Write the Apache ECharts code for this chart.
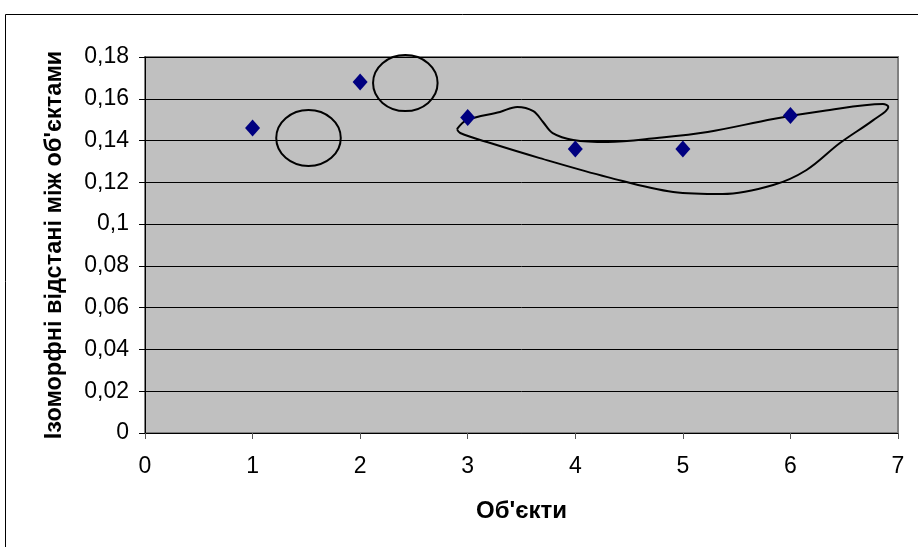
<!DOCTYPE html>
<html>
<head>
<meta charset="utf-8">
<script src="https://cdn.jsdelivr.net/npm/echarts@6/dist/echarts.min.js"></script>
<style>
  html, body { margin: 0; padding: 0; background: #fff; }
  #chart { width: 918px; height: 547px; }
</style>
</head>
<body>
<div id="chart"></div>
<script>
// objects and their isomorphic distances
const objects = [1, 2, 3, 4, 5, 6];
const distances = [0.146, 0.168, 0.151, 0.136, 0.136, 0.152];

// hand-drawn ellipses: [centre x, centre y, radius x, radius y] in data units
const ellipses = [
  [1.52, 0.1412, 0.30, 0.0134],
  [2.42, 0.1675, 0.30, 0.0134]
];

// hand-drawn closed outline round objects 3..6
const outlineX = [2.90, 2.99, 3.30, 3.46, 3.61, 3.70, 3.79, 3.98, 4.30, 4.76, 5.23, 5.84, 6.30, 6.86, 6.91,
                  6.77, 6.46, 6.15, 5.84, 5.37, 4.91, 4.30, 3.67, 3.21, 2.93, 2.90];
const outlineY = [0.1455, 0.1498, 0.1537, 0.1561, 0.1541, 0.1489, 0.1436, 0.1403, 0.1393, 0.1412, 0.1441, 0.1503, 0.1541, 0.1575, 0.1561,
                  0.1498, 0.1388, 0.1259, 0.1187, 0.1144, 0.1154, 0.1225, 0.1316, 0.1388, 0.1436, 0.1455];

const xTitle = "Об'єкти";
const yTitle = "Ізоморфні відстані між об'єктами";

const chart = echarts.init(document.getElementById('chart'));

const font = 'Liberation Sans, Arial, sans-serif';

chart.setOption({
  animation: false,
  graphic: [{
    type: 'rect',
    shape: { x: 5.5, y: 14.5, width: 930, height: 560 },
    style: { fill: 'none', stroke: '#000', lineWidth: 1 },
    z: -1
  }],
  grid: {
    left: 145, right: 20, top: 57, bottom: 114,
    show: true,
    backgroundColor: '#c0c0c0',
    borderColor: '#808080',
    borderWidth: 2
  },
  xAxis: {
    type: 'value',
    min: 0, max: 7, interval: 1,
    name: xTitle,
    nameLocation: 'middle',
    nameGap: 66,
    nameTextStyle: { fontFamily: font, fontSize: 24, fontWeight: 'bold', color: '#000' },
    axisLine: { show: true, onZero: false, lineStyle: { color: '#000', width: 1 } },
    axisTick: { show: true, length: 6, lineStyle: { color: '#555' } },
    axisLabel: { fontFamily: font, fontSize: 23, color: '#000', margin: 22 },
    splitLine: { show: false }
  },
  yAxis: {
    type: 'value',
    min: 0, max: 0.18, interval: 0.02,
    name: yTitle,
    nameLocation: 'middle',
    nameGap: 78,
    nameTextStyle: { fontFamily: font, fontSize: 23.5, fontWeight: 'bold', color: '#000' },
    axisLine: { show: true, lineStyle: { color: '#000', width: 1 } },
    axisTick: { show: true, length: 6, lineStyle: { color: '#000' } },
    axisLabel: {
      fontFamily: font, fontSize: 23, color: '#000', margin: 16,
      formatter: v => String(+v.toFixed(2)).replace('.', ',')
    },
    splitLine: { show: true, lineStyle: { color: '#000', width: 1 } }
  },
  series: [
    {
      type: 'line',
      data: outlineX.map((x, i) => [x, outlineY[i]]),
      smooth: 0.35,
      showSymbol: false,
      silent: true,
      lineStyle: { color: '#000', width: 2 },
      z: 2
    },
    {
      type: 'custom',
      silent: true,
      data: ellipses,
      encode: { x: 0, y: 1 },
      renderItem: (params, api) => {
        const c = api.coord([api.value(0), api.value(1)]);
        const s = api.size([api.value(2), api.value(3)]);
        return {
          type: 'ellipse',
          shape: { cx: c[0], cy: c[1], rx: s[0], ry: s[1] },
          style: { fill: null, stroke: '#000', lineWidth: 2 }
        };
      },
      z: 2
    },
    {
      type: 'scatter',
      data: objects.map((x, i) => [x, distances[i]]),
      symbol: 'diamond',
      symbolSize: [15, 17],
      itemStyle: { color: '#000080', opacity: 1 },
      z: 3
    }
  ]
});
</script>
</body>
</html>
